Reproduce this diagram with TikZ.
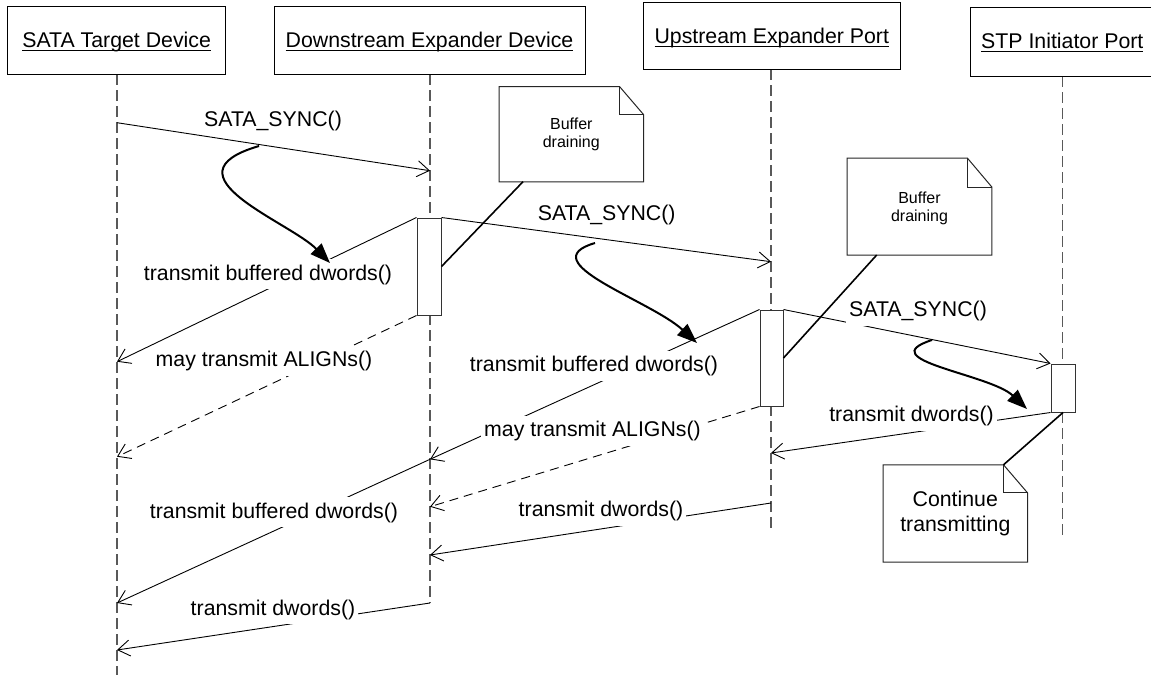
\documentclass[tikz,border=0pt]{standalone}
\usepackage{fontspec}
\setmainfont{Liberation Sans}
\usetikzlibrary{arrows.meta}
\newcommand\lblfont{\fontsize{21.3}{25.6}\selectfont}
\newcommand\notefont{\fontsize{16}{18.5}\selectfont}
\newcommand\hdul[1]{\setbox0\hbox{#1}\rlap{\rule[-3.3pt]{\wd0}{1.1pt}}\box0}
\begin{document}
\begin{tikzpicture}[x=1pt,y=-1pt,
  hdr/.style={draw=black,line width=0.9pt,fill=white,inner sep=0pt},
  htxt/.style={anchor=base,inner sep=0pt,font=\lblfont},
  life/.style={draw=black!65,line width=1.1pt,dash pattern=on 11pt off 5pt},
  act/.style={draw=black!80,line width=1pt,fill=white,inner sep=0pt,minimum width=24pt},
  msg/.style={draw=black,line width=0.9pt,-{Straight Barb[length=12pt,width=16pt]}},
  dmsg/.style={msg,dash pattern=on 9pt off 6pt},
  lbl/.style={anchor=base,font=\lblfont,fill=white,inner xsep=3pt,inner ysep=4pt,text height=17pt,text depth=5pt},
  plbl/.style={anchor=base,font=\lblfont,inner sep=0pt},
  flow/.style={draw=black,line width=2pt,-{Triangle[length=20pt,width=15pt]}},
  notebox/.style={inner sep=0pt},
  notetext/.style={inner sep=0pt,align=center},
  noteline/.style={draw=black!85,line width=1pt,line join=miter},
  conn/.style={draw=black,line width=1.6pt}]
\useasboundingbox (0,0) rectangle (1151,675);

% lifelines
\coordinate (l1t) at (117,74);   \coordinate (l1e) at (117,675);
\coordinate (l2t) at (430,74);   \coordinate (l2e) at (430,603);
\coordinate (l3t) at (771,69.3); \coordinate (l3e) at (771,532);
\coordinate (l4t) at (1062.5,76);  \coordinate (l4e) at (1062.5,537);
\draw[life] (l1t) -- (l1e);
\draw[life] (l2t) -- (l2e);
\draw[life] (l3t) -- (l3e);
\draw[life] (l4t) -- (l4e);

% headers
\node[hdr,minimum width=217.7pt,minimum height=67.3pt] (hSATA) at (116.15,40.35) {};
\node[htxt] (tSATA) at (116.6,47.7) {\hdul{SATA Target Device}};
\node[hdr,minimum width=311pt,minimum height=67.3pt] (hDown) at (429.5,40.35) {};
\node[htxt] (tDown) at (429.5,47.7) {\hdul{Downstream Expander Device}};
\node[hdr,minimum width=256.4pt,minimum height=66.6pt] (hUp) at (771.8,36) {};
\node[htxt] (tUp) at (771.8,43.3) {\hdul{Upstream Expander Port}};
\node[hdr,minimum width=182pt,minimum height=68.7pt] (hSTP) at (1061,41.65) {};
\node[htxt] (tSTP) at (1062.3,48.3) {\hdul{STP Initiator Port}};

% activation boxes
\node[act,minimum height=97pt] (aD) at (429,266.5) {};
\node[act,minimum width=23pt,minimum height=96pt] (aU) at (771.5,358) {};
\node[act,minimum height=48pt] (aS) at (1063,388) {};

% message end points
\coordinate (s1) at (117,122.7);  \coordinate (d1) at (430,170.7);
\coordinate (la) at (117,361.7);  \coordinate (lb) at (117,456.7);
\coordinate (u1) at (771,261.7);
\coordinate (d2) at (430,459.3);  \coordinate (d3) at (430,506.7);
\coordinate (u2) at (771,453);    \coordinate (u3) at (771,503);
\coordinate (d4) at (430,555);    \coordinate (lc) at (117,603);
\coordinate (d5) at (430,603);    \coordinate (ld) at (117,650);

% messages
\draw[msg] (s1) -- (d1);
\draw[msg] (aD.north west) -- (la);
\draw[dmsg] (aD.south west) -- (lb);
\draw[msg] (aD.north east) -- (u1);
\draw[msg] (aU.north west) -- (d2);
\draw[dmsg] (aU.south west) -- (d3);
\draw[msg] (aU.north east) -- (aS.north west);
\draw[msg] (aS.south west) -- (u2);
\draw[msg] (u3) -- (d4);
\draw[msg] (d2) -- (lc);
\draw[msg] (d5) -- (ld);

% labels
\node[plbl] (q1) at (273,126) {SATA\_SYNC()};
\node[lbl] (q2) at (268,280) {transmit buffered dwords()};
\node[lbl] (q3) at (264,366.7) {may transmit ALIGNs()};
\node[plbl] (q4) at (606.7,220) {SATA\_SYNC()};
\node[lbl] (q5) at (594,371.7) {transmit buffered dwords()};
\node[lbl] (q6) at (592.5,436.7) {may transmit ALIGNs()};
\node[lbl] (q7) at (918,316.7) {SATA\_SYNC()};
\node[lbl] (q8) at (911.5,421.7) {transmit dwords()};
\node[lbl] (q9) at (274,518.3) {transmit buffered dwords()};
\node[lbl] (q10) at (601,516.7) {transmit dwords()};
\node[lbl] (q11) at (273,615) {transmit dwords()};

% notes
\node[notebox,minimum width=144pt,minimum height=95pt] (n1) at (571.3,134.2) {};
\draw[noteline,fill=white] (n1.north west) -- ([shift={(-24,0)}]n1.north east) -- ([shift={(0,28)}]n1.north east) -- (n1.south east) -- (n1.south west) -- cycle;
\draw[noteline] ([shift={(-24,0)}]n1.north east) -- ([shift={(-24,28)}]n1.north east) -- ([shift={(0,28)}]n1.north east);
\node[notetext,font=\notefont] (n1t) at (n1.center) {Buffer\\draining};

\node[notebox,minimum width=144.4pt,minimum height=96.7pt] (n2) at (919.5,206.65) {};
\draw[noteline,fill=white] (n2.north west) -- ([shift={(-24.5,0)}]n2.north east) -- ([shift={(0,29)}]n2.north east) -- (n2.south east) -- (n2.south west) -- cycle;
\draw[noteline] ([shift={(-24.5,0)}]n2.north east) -- ([shift={(-24.5,29)}]n2.north east) -- ([shift={(0,29)}]n2.north east);
\node[notetext,font=\notefont] (n2t) at ([shift={(0,1.5)}]n2.center) {Buffer\\draining};

\node[notebox,minimum width=144pt,minimum height=97pt] (n3) at (955.3,513.5) {};
\draw[noteline,fill=white] (n3.north west) -- ([shift={(-24,0)}]n3.north east) -- ([shift={(0,28)}]n3.north east) -- (n3.south east) -- (n3.south west) -- cycle;
\draw[noteline] ([shift={(-24,0)}]n3.north east) -- ([shift={(-24,28)}]n3.north east) -- ([shift={(0,28)}]n3.north east);
\node[notetext,font=\lblfont] (n3t) at (n3.center) {Continue\\transmitting};

% note connectors
\coordinate (n1c) at (523,181.7);
\coordinate (n2c) at (876.7,255);
\draw[conn] (n1c) -- (aD.east);
\draw[conn] (n2c) -- (aU.east);
\draw[conn] (aS.south) -- ([shift={(-24,0)}]n3.north east);

% flow arrows
\coordinate (c1s) at (259,146);  \coordinate (c1e) at (330,263);
\coordinate (c2s) at (595,243);  \coordinate (c2e) at (697,343);
\coordinate (c3s) at (932,340);  \coordinate (c3e) at (1027,409);
\draw[flow] (c1s) .. controls (160,175) and (290,222) .. (c1e);
\draw[flow] (c2s) .. controls (530,262) and (650,300) .. (c2e);
\draw[flow] (c3s) .. controls (870,360) and (990,374) .. (c3e);
\end{tikzpicture}
\end{document}
